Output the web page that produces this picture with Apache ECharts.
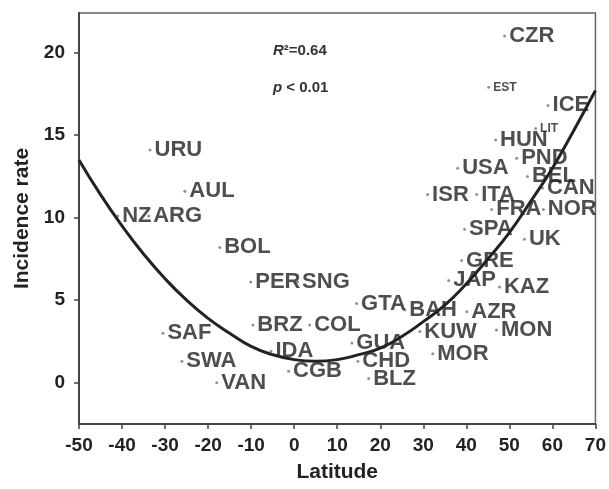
<!DOCTYPE html>
<html>
<head>
<meta charset="utf-8">
<script src="https://cdn.jsdelivr.net/npm/echarts@6/dist/echarts.min.js"></script>
<style>
html,body{margin:0;padding:0;background:#fff;}
#chart{width:609px;height:489px;}
</style>
</head>
<body>
<div id="chart"></div>
<script>
// ---- data ----
var countries = ['URU','AUL','NZ','ARG','BOL','PER','SNG','BRZ','COL','SAF','SWA','VAN','IDA','CGB','GTA','GUA','CHD','BLZ','BAH','KUW','MOR','AZR','MON','KAZ','JAP','GRE','UK','SPA','FRA','NOR','ISR','ITA','CAN','USA','BEL','PND','HUN','LIT','ICE','EST','CZR'];
var latitude  = [-33.5,-25.4,-41.0,-33.8,-17.3,-10.1,0.8,-9.6,3.6,-30.5,-26.1,-18.0,-5.4,-1.3,14.5,13.4,14.8,17.3,25.7,29.2,32.2,40.1,47.0,47.7,35.9,38.9,53.5,39.6,45.9,57.9,31.0,42.4,57.7,38.0,54.2,51.7,46.8,56.1,59.0,45.2,48.9];
var incidence = [14.1,11.6,10.1,10.1,8.2,6.1,6.1,3.5,3.5,3.0,1.3,0.0,1.9,0.7,4.8,2.4,1.3,0.25,4.4,3.1,1.75,4.3,3.2,5.8,6.2,7.4,8.7,9.3,10.5,10.5,11.4,11.4,11.8,13.0,12.5,13.6,14.7,15.4,16.8,17.9,21.0];
var smallLabels = ['LIT','EST'];
// fitted curve
var trendX = [-50,-45,-40,-35,-30,-25,-20,-15,-10,-5,0,5,10,15,20,25,30,35,40,45,50,55,60,65,70];
var trendY = [13.5,11.4,9.5,7.8,6.3,5.0,3.9,3.0,2.2,1.7,1.4,1.3,1.4,1.7,2.1,2.8,3.7,4.7,6.0,7.5,9.1,11.0,13.0,15.3,17.7];
var xTicks = [-50,-40,-30,-20,-10,0,10,20,30,40,50,60,70];
var yTicks = [0,5,10,15,20];
var statLines = ['{i|R}²=0.64', '{i|p} < 0.01'];

var FONT = '"Liberation Sans", Arial, sans-serif';
var TXT = '#222';

var scatterData = latitude.map(function (x, i) {
  var item = { name: countries[i], value: [x, incidence[i]] };
  if (smallLabels.indexOf(countries[i]) >= 0) {
    item.label = { fontSize: 12, offset: [0, -3] };
  }
  return item;
});
var lineData = trendX.map(function (x, i) { return [x, trendY[i]]; });

var chart = echarts.init(document.getElementById('chart'));
chart.setOption({
  animation: false,
  backgroundColor: '#fff',
  grid: { left: 79, right: 13, top: 13, bottom: 65, show: true, borderColor: '#666', borderWidth: 1.5 },
  xAxis: {
    type: 'value', min: -50, max: 70, interval: 10,
    name: 'Latitude', nameLocation: 'middle', nameGap: 38,
    nameTextStyle: { fontFamily: FONT, fontSize: 21, fontWeight: 'bold', color: TXT },
    axisLine: { show: true, onZero: false, lineStyle: { color: '#444', width: 2 } },
    axisTick: { show: true, length: 5, lineStyle: { color: '#444', width: 1.5 }, customValues: xTicks },
    axisLabel: { fontFamily: FONT, fontSize: 19, fontWeight: 'bold', color: TXT, margin: 12, customValues: xTicks },
    splitLine: { show: false }
  },
  yAxis: {
    type: 'value', min: -2.5, max: 22.4,
    name: 'Incidence rate', nameLocation: 'middle', nameGap: 46,
    nameTextStyle: { fontFamily: FONT, fontSize: 21, fontWeight: 'bold', color: TXT },
    axisLine: { show: true, onZero: false, lineStyle: { color: '#444', width: 2 } },
    axisTick: { show: true, length: 5, lineStyle: { color: '#444', width: 1.5 }, customValues: yTicks },
    axisLabel: { fontFamily: FONT, fontSize: 19, fontWeight: 'bold', color: TXT, margin: 14, customValues: yTicks },
    splitLine: { show: false }
  },
  graphic: statLines.map(function (t, i) {
    return {
      type: 'text', left: 273, top: 43 + i * 37,
      style: {
        text: t, fontFamily: FONT, fontSize: 15, fontWeight: 'bold', fill: '#333',
        rich: { i: { fontStyle: 'italic', fontFamily: FONT, fontSize: 15, fontWeight: 'bold', fill: '#333' } }
      }
    };
  }),
  series: [
    {
      type: 'scatter', data: scatterData, symbol: 'circle', symbolSize: 3,
      itemStyle: { color: '#777' }, z: 2,
      label: {
        show: true, position: 'right', distance: 3, offset: [0, -3],
        formatter: '{b}', fontFamily: FONT, fontSize: 22, fontWeight: 'bold', color: TXT
      },
      labelLayout: { hideOverlap: false }
    },
    {
      type: 'line', data: lineData, smooth: true, showSymbol: false, symbol: 'none',
      lineStyle: { color: '#222', width: 3 }, z: 3, silent: true
    }
  ]
});
</script>
</body>
</html>
